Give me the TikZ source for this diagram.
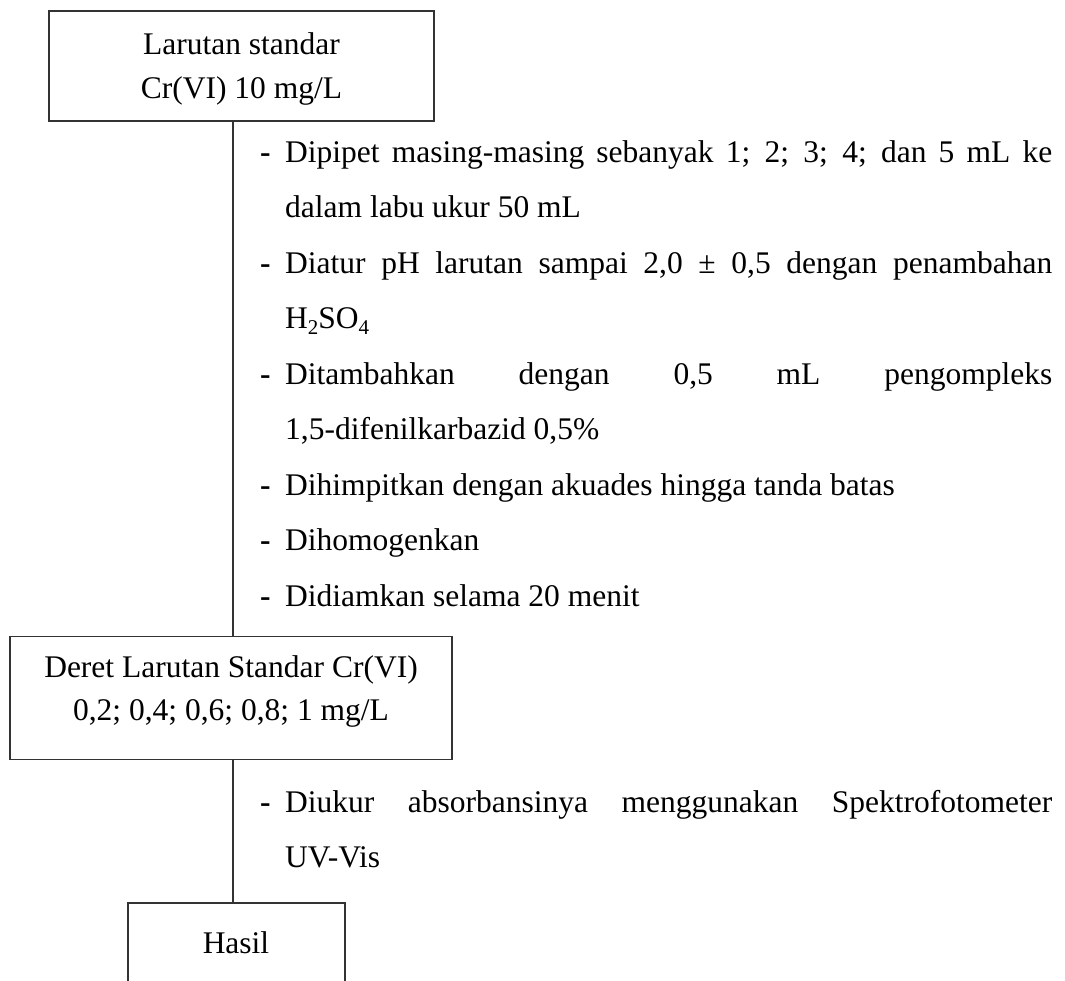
\documentclass[tikz,border=0pt]{standalone}
\usepackage{fontspec}
\setmainfont{Liberation Serif}
\newcommand{\bodysize}{\fontsize{31.5}{44}\selectfont}
\newcommand{\subsz}[1]{\raisebox{-0.18em}{\fontsize{21}{21}\selectfont #1}}
\newcommand{\jline}[1]{\makebox[767pt][s]{#1}}
\begin{document}
\begin{tikzpicture}[x=1pt,y=-1pt,
  framebox/.style={draw=black!80, line width=1.2pt, inner sep=0pt},
  txt/.style={anchor=base, inner sep=0pt, font=\bodysize},
  itemtxt/.style={anchor=base west, inner sep=0pt, font=\bodysize},
  bullet/.style={anchor=base west, inner sep=0pt, font=\bodysize},
  link/.style={draw=black!80, line width=1.2pt}]
\useasboundingbox (0,0) rectangle (1065,980);

% process boxes
\node[framebox, minimum width=385pt, minimum height=110pt] (start) at (241.5,66) {};
\node[txt] (startA) at (241.5,54) {Larutan standar};
\node[txt] (startB) at (241.5,98) {Cr(VI) 10 mg/L};

\node[framebox, minimum width=442pt, minimum height=123pt] (series) at (231,698) {};
\node[txt] (seriesA) at (231,677) {Deret Larutan Standar Cr(VI)};
\node[txt] (seriesB) at (231,720) {0,2; 0,4; 0,6; 0,8; 1 mg/L};

\node[framebox, minimum width=217pt, minimum height=84pt] (result) at (236.5,945) {};
\node[txt] (resultA) at (236,953) {Hasil};

% main flow line
\coordinate (spine) at (233,0);
\draw[link] (start.south -| spine) -- (series.north -| spine);
\draw[link] (series.south -| spine) -- (result.north -| spine);

% preparation steps
\node[bullet] (d1) at (260,162) {\textbf{-}};
\node[itemtxt] (s1a) at (285,162) {\jline{Dipipet masing-masing sebanyak 1; 2; 3; 4; dan 5 mL ke}};
\node[itemtxt] (s1b) at (285,217.5) {dalam labu ukur 50 mL};
\node[bullet] (d2) at (260,273) {\textbf{-}};
\node[itemtxt] (s2a) at (285,273) {\jline{Diatur pH larutan sampai 2,0 ± 0,5 dengan penambahan}};
\node[itemtxt] (s2b) at (285,328.5) {H\subsz{2}SO\subsz{4}};
\node[bullet] (d3) at (260,384) {\textbf{-}};
\node[itemtxt] (s3a) at (285,384) {\jline{Ditambahkan dengan 0,5 mL pengompleks}};
\node[itemtxt] (s3b) at (285,439.5) {1,5-difenilkarbazid 0,5\%};
\node[bullet] (d4) at (260,495) {\textbf{-}};
\node[itemtxt] (s4) at (285,495) {Dihimpitkan dengan akuades hingga tanda batas};
\node[bullet] (d5) at (260,550.5) {\textbf{-}};
\node[itemtxt] (s5) at (285,550.5) {Dihomogenkan};
\node[bullet] (d6) at (260,606) {\textbf{-}};
\node[itemtxt] (s6) at (285,606) {Didiamkan selama 20 menit};

% measurement step
\node[bullet] (d7) at (260,812) {\textbf{-}};
\node[itemtxt] (s7a) at (285,812) {\jline{Diukur absorbansinya menggunakan Spektrofotometer}};
\node[itemtxt] (s7b) at (285,867) {UV-Vis};
\end{tikzpicture}
\end{document}
